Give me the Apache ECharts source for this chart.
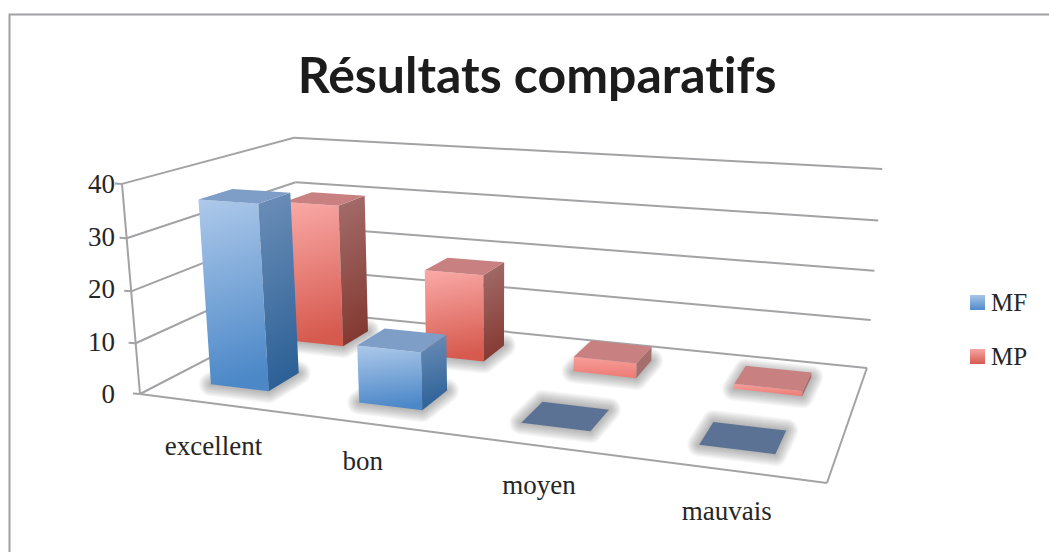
<!DOCTYPE html>
<html><head><meta charset="utf-8">
<style>html,body{margin:0;padding:0;background:#fff}#c{width:1049px;height:552px}
text{font-variant-ligatures:none}</style>
<script src="https://cdn.jsdelivr.net/npm/echarts@6/dist/echarts.min.js"></script>
</head><body><div id="c"></div>
<script>
const categories = ['excellent', 'bon', 'moyen', 'mauvais'];
const seriesMF = [36, 11, 0, 0];
const seriesMP = [30, 18, 3, 1];
const valueTicks = [0, 10, 20, 30, 40];
const labelNudge = [[1, 3], [-5, -3], [1, -1], [1, 1]];

const chart = echarts.init(document.getElementById('c'), null, {renderer: 'svg'});
const G = (a, b, x2, y2) => new echarts.graphic.LinearGradient(0, 0, x2 === undefined ? 0 : x2, y2 === undefined ? 1 : y2,
  [{offset: 0, color: a}, {offset: 1, color: b}]);

// perspective camera of the 3D box: u along categories, w depth, v height (all 0..1)
function project(u, w, v) {
  const d = -0.1736 * u + 0.2111 * w - 0.0446 * v + 1;
  let x = (543.4 * u + 216 * w - 23.45 * v + 140) / d;
  let y = (5.15 * u - 17.35 * w - 218.3 * v + 394) / d;
  x += w * (1 - u) * (6 + 3 * v);
  y += v * w * (4.3 * u + 2 * (1 - u));
  return [x, y];
}
function normU(params, api, i) {
  const cs = params.coordSys;
  return (api.coord([i, 0])[0] - cs.x) / cs.width;
}
function normV(params, api, val) {
  const cs = params.coordSys;
  return (cs.y + cs.height - api.coord([0, val])[1]) / cs.height;
}
const poly = (pts, style) => ({type: 'polygon', shape: {points: pts}, style});
const line = (a, b, w) => ({type: 'line', shape: {x1: a[0], y1: a[1], x2: b[0], y2: b[1]},
  style: {stroke: '#a3a3a6', lineWidth: w || 2}});

// soft floor shadow: stacked round-joined outlines of the bar's footprint
function floorShadow(base, children) {
  for (let k = 12; k >= 1; k--) {
    children.push(poly(base, {fill: 'none', stroke: 'rgba(70,70,70,0.04)', lineWidth: 2 * k, lineJoin: 'round'}));
  }
}

function barRenderer(wc, pal) {
  const hu = 0.05, hw = 0.095;
  return function (params, api) {
    const val = api.value(1);
    const uc = normU(params, api, api.value(0));
    const v = normV(params, api, val);
    const u0 = uc - hu, u1 = uc + hu, w0 = wc - hw, w1 = wc + hw;
    const P = project;
    const children = [];
    floorShadow([P(u0, w0, 0), P(u1, w0, 0), P(u1, w1, 0), P(u0, w1, 0)], children);
    if (val > 0) {
      const small = val < 5;
      children.push(poly([P(u0, w0, 0), P(u1, w0, 0), P(u1, w0, v), P(u0, w0, v)],
        {fill: small ? G(pal.smallTop, pal.smallBottom) : G(pal.frontTop, pal.frontBottom, 0.12, 1)}));
      children.push(poly([P(u1, w0, 0), P(u1, w1, 0), P(u1, w1, v), P(u1, w0, v)],
        {fill: small ? pal.sideTop : G(pal.sideTop, pal.sideBottom, 0.12, 1)}));
    }
    children.push(poly([P(u0, w0, v), P(u1, w0, v), P(u1, w1, v), P(u0, w1, v)], {fill: val > 0 ? pal.top : pal.flat}));
    return {type: 'group', children};
  };
}
const palMF = {frontTop: '#aec9ea', frontBottom: '#4c88c8', sideTop: '#6d8fb8', sideBottom: '#2d6197', top: '#7f9ec7', flat: '#5b7294', smallTop: '#aec9ea', smallBottom: '#7aa6da'};
const palMP = {frontTop: '#faaaa8', frontBottom: '#d65a4e', sideTop: '#a46e6c', sideBottom: '#843a32', top: '#c88180', flat: '#c88180', smallTop: '#f79e9a', smallBottom: '#ec7a72'};

const option = {
  animation: false,
  backgroundColor: '#fff',
  title: {
    text: 'Résultats comparatifs', left: 532, top: 44, textAlign: 'center',
    textStyle: {fontFamily: 'Lato', fontWeight: 'bold', fontSize: 50, color: '#1c1c1c'}
  },
  legend: {
    orient: 'vertical', left: 965, top: 285, itemWidth: 15, itemHeight: 15, itemGap: 29,
    icon: 'rect', data: ['MF', 'MP'],
    textStyle: {fontFamily: 'Liberation Serif', fontSize: 25, color: '#262626', padding: [10, 0, 0, 1]}
  },
  grid: {left: 122, top: 184, width: 700, height: 210},
  xAxis: {type: 'category', data: categories, show: false},
  yAxis: {
    type: 'value', min: 0, max: 40, interval: 10,
    axisLine: {show: false}, axisTick: {show: false}, splitLine: {show: false},
    axisLabel: {margin: 7, fontFamily: 'Liberation Serif', fontSize: 27, color: '#262626', padding: [4, 0, 0, 0]}
  },
  graphic: [{type: 'rect', shape: {x: 9.5, y: 14.5, width: 1060, height: 560},
    style: {fill: 'none', stroke: '#a0a0a5', lineWidth: 2}, silent: true, z: -10}],
  series: [
    {
      type: 'custom', coordinateSystem: 'cartesian2d', silent: true, z: 1,
      data: valueTicks.map(t => [0, t]),
      renderItem(params, api) {
        const v = normV(params, api, api.value(1));
        const P = project;
        const ch = [line(P(0, 0, v), P(0, 1, v)), line(P(0, 1, v), P(1, 1, v))];
        const a = P(0, 0, v);
        ch.push(line([a[0] - 7, a[1] - 0.5], a));
        if (api.value(1) === 0) {
          ch.push(line(P(0, 0, 0), P(1, 0, 0)), line(P(1, 0, 0), P(1, 1, 0)), line(P(0, 0, 0), P(0, 0, 1)));
        }
        return {type: 'group', children: ch};
      }
    },
    {
      name: 'MP', type: 'custom', coordinateSystem: 'cartesian2d', silent: true, z: 2,
      itemStyle: {color: G('#f6a5a3', '#d65a50')},
      data: seriesMP.map((v, i) => [i, v]), renderItem: barRenderer(0.75, palMP)
    },
    {
      name: 'MF', type: 'custom', coordinateSystem: 'cartesian2d', silent: true, z: 3,
      itemStyle: {color: G('#a9c6e8', '#4f8ac8')},
      data: seriesMF.map((v, i) => [i, v]), renderItem: barRenderer(0.25, palMF)
    },
    {
      type: 'custom', coordinateSystem: 'cartesian2d', silent: true, z: 4,
      data: categories.map((c, i) => [i, 0]),
      renderItem(params, api) {
        const i = api.value(0);
        const p = project(normU(params, api, i), 0, 0);
        return {type: 'text', x: p[0] + labelNudge[i][0], y: p[1] + 40 + labelNudge[i][1],
          style: {text: categories[i], fontFamily: 'Liberation Serif', fontSize: 27, fill: '#262626', align: 'center', verticalAlign: 'middle'}};
      }
    }
  ]
};
chart.setOption(option);
</script></body></html>
